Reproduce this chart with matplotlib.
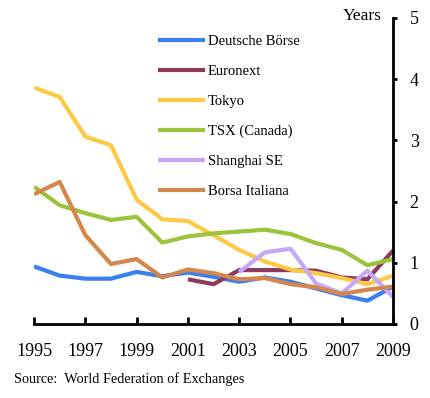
"""
Stock exchange turnover velocity chart
"""

import matplotlib
matplotlib.use('Agg')
import matplotlib.pyplot as plt

years = list(range(1995, 2010))

deutsche = [0.94, 0.79, 0.74, 0.74, 0.85, 0.78, 0.84, 0.77, 0.69, 0.76,
            0.69, 0.58, 0.47, 0.38, 0.61]
euronext = [None] * 6 + [0.73, 0.65, 0.88, 0.88, 0.88, 0.87, 0.76, 0.73, 1.20]
tokyo = [3.86, 3.71, 3.06, 2.92, 2.03, 1.71, 1.68, 1.45, 1.21, 1.02,
         0.89, 0.83, 0.75, 0.65, 0.79]
tsx = [2.24, 1.94, 1.81, 1.70, 1.75, 1.33, 1.43, 1.48, 1.51, 1.54,
       1.47, 1.32, 1.21, 0.96, 1.06]
shanghai = [None] * 8 + [0.85, 1.17, 1.23, 0.66, 0.50, 0.87, 0.44]
borsa = [2.12, 2.32, 1.45, 0.98, 1.06, 0.76, 0.89, 0.83, 0.73, 0.75,
         0.65, 0.60, 0.49, 0.56, 0.61]

series = [
    ('Deutsche Börse', deutsche, '#3a7ff0'),
    ('Euronext', euronext, '#8b3a5c'),
    ('Tokyo', tokyo, '#fdc945'),
    ('TSX (Canada)', tsx, '#9dc33c'),
    ('Shanghai SE', shanghai, '#c6a8f6'),
    ('Borsa Italiana', borsa, '#d5874b'),
]

plt.rcParams['font.family'] = ['Liberation Serif', 'DejaVu Serif']

fig = plt.figure(figsize=(4.31, 3.98), dpi=100)
ax = fig.add_axes([0.079, 0.186, 0.833, 0.769])

for name, values, color in series:
    xs = [y for y, v in zip(years, values) if v is not None]
    ys = [v for v in values if v is not None]
    ax.plot(xs, ys, color=color, lw=3, label=name, solid_capstyle='butt')

ax.set_xlim(1995, 2009)
ax.set_ylim(0, 5)
ax.set_xticks(range(1995, 2010, 2))
ax.set_yticks(range(0, 6))

for side in ('top', 'left'):
    ax.spines[side].set_visible(False)
for side in ('bottom', 'right'):
    ax.spines[side].set_linewidth(2)

ax.yaxis.tick_right()
ax.tick_params(axis='x', direction='in', length=5, width=2, labelsize=13,
               pad=14)
ax.tick_params(axis='y', direction='out', length=3, width=2, labelsize=13,
               pad=9)

ax.legend(loc='upper left', bbox_to_anchor=(0.31, 0.987), frameon=False,
          fontsize=10.5, handlelength=3.2, handletextpad=0.2,
          labelspacing=1.15)

fig.text(0.796, 0.98, 'Years', fontsize=12.5, ha='left', va='top')
fig.text(0.032, 0.03, 'Source:  World Federation of Exchanges', fontsize=10.3,
         ha='left', va='bottom')

fig.savefig('out.png', dpi=100)
